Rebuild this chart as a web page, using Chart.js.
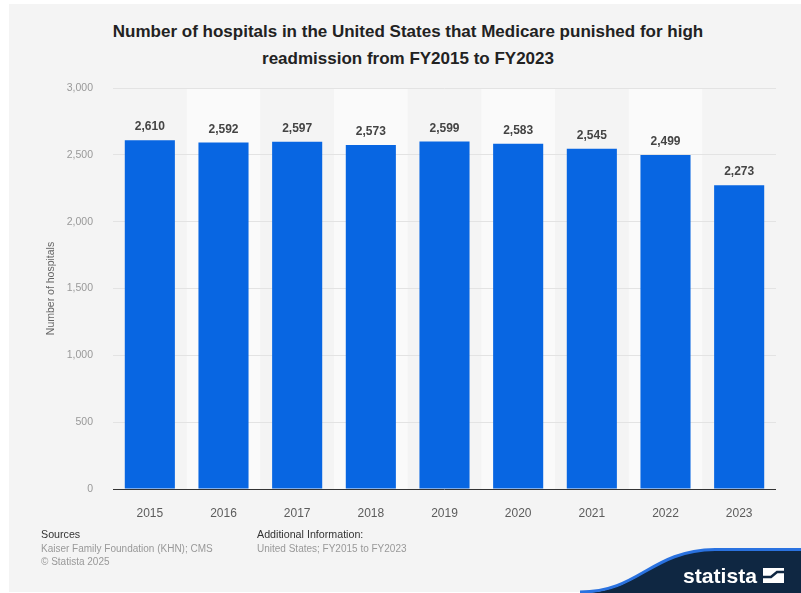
<!DOCTYPE html>
<html>
<head>
<meta charset="utf-8">
<script src="https://cdn.jsdelivr.net/npm/chart.js@4/dist/chart.umd.min.js"></script>
<style>
  body { margin: 0; background: #ffffff; font-family: "Liberation Sans", Arial, sans-serif; }
  #card { position: absolute; left: 9px; top: 4px; width: 792px; height: 588px; background: #f4f4f4; }
  #chart { position: absolute; left: 0; top: 0; }
  #title { position: absolute; left: 0; top: 18px; width: 816px; text-align: center;
    font-weight: bold; font-size: 17px; line-height: 27px; color: #222; }
  .foot { position: absolute; top: 528px; font-size: 10px; line-height: 13.5px; color: #999; }
  .foot b { font-weight: normal; color: #333; font-size: 10.7px; }
  #logo { position: absolute; left: 0; top: 0; }
</style>
</head>
<body>
<div id="card"></div>
<div id="title">Number of hospitals in the United States that Medicare punished for high<br>readmission from FY2015 to FY2023</div>
<canvas id="chart" width="801" height="593"></canvas>
<div class="foot" style="left:41px"><b>Sources</b><br>Kaiser Family Foundation (KHN); CMS<br>© Statista 2025</div>
<div class="foot" style="left:257px"><b>Additional Information:</b><br>United States; FY2015 to FY2023</div>
<svg id="logo" width="801" height="593">
  <path d="M580 593 C640 593 650 551 715 550 L801 550 L801 593 Z" fill="#0f2742"/>
  <path d="M580 592 C640 592 650 550.5 715 549.5 L801 549.5" fill="none" stroke="#2a72e0" stroke-width="3"/>
  <text x="683" y="583" fill="#ffffff" font-family="Liberation Sans, Arial" font-weight="bold" font-size="21" textLength="74" lengthAdjust="spacingAndGlyphs">statista</text>
  <rect x="763" y="568" width="21" height="15" fill="#ffffff"/>
  <path d="M763 577 L771 577 L777 572 L784 572" fill="none" stroke="#0f2742" stroke-width="2.5"/>
</svg>
<script>
// Data
const years = ["2015", "2016", "2017", "2018", "2019", "2020", "2021", "2022", "2023"];
const hospitals = [2610, 2592, 2597, 2573, 2599, 2583, 2545, 2499, 2273];
const yTicks = [0, 500, 1000, 1500, 2000, 2500, 3000];

const chartCanvas = document.getElementById("chart");
const chartContext = chartCanvas.getContext("2d");

// Alternating column bands behind the bars
const bandPlugin = {
  id: "bands",
  beforeDraw(chart) {
    const { ctx, chartArea, scales } = chart;
    const step = scales.x.width / years.length;
    ctx.save();
    ctx.fillStyle = "#fafafa";
    years.forEach((y, i) => {
      if (i % 2 === 1) {
        const x0 = scales.x.getPixelForValue(i) - step / 2;
        ctx.fillRect(x0, chartArea.top, step, chartArea.bottom - chartArea.top);
      }
    });
    ctx.restore();
  },
};

// Value labels above bars
const labelPlugin = {
  id: "valueLabels",
  afterDatasetsDraw(chart) {
    const { ctx } = chart;
    const meta = chart.getDatasetMeta(0);
    ctx.save();
    ctx.font = "bold 12px 'Liberation Sans', Arial, sans-serif";
    ctx.fillStyle = "#444";
    ctx.textAlign = "center";
    ctx.textBaseline = "middle";
    meta.data.forEach((bar, i) => {
      ctx.fillText(hospitals[i].toLocaleString("en-US"), bar.x, bar.y - 13);
    });
    ctx.restore();
  },
};

new Chart(chartContext, {
  type: "bar",
  data: {
    labels: years,
    datasets: [
      {
        data: hospitals,
        backgroundColor: "#0866e2",
        categoryPercentage: 1,
        barPercentage: 0.68,
      },
    ],
  },
  options: {
    responsive: false,
    animation: false,
    layout: { padding: { left: 0, right: 25, top: 88, bottom: 74 } },
    plugins: { legend: { display: false }, tooltip: { enabled: false } },
    scales: {
      x: {
        grid: { display: false },
        border: { display: false },
        ticks: { color: "#5c5c5c", padding: 9, font: { size: 12, family: "'Liberation Sans', Arial" } },
        afterFit(scale) { scale.height = 30; },
      },
      y: {
        min: 0,
        max: 3000,
        afterBuildTicks(scale) { scale.ticks = yTicks.map(v => ({ value: v })); },
        grid: {
          drawTicks: false,
          color: ctx => (ctx.tick && ctx.tick.value === 0 ? "#333" : "#e3e3e3"),
        },
        border: { display: false },
        ticks: {
          color: "#999",
          padding: 20,
          font: { size: 10.5, family: "'Liberation Sans', Arial" },
          callback: v => v.toLocaleString("en-US"),
        },
        title: {
          display: true,
          text: "Number of hospitals",
          color: "#666",
          font: { size: 10.5, family: "'Liberation Sans', Arial" },
          padding: { top: 45, bottom: 0 },
        },
        afterFit(scale) { scale.width = 113; },
      },
    },
  },
  plugins: [bandPlugin, labelPlugin],
});
</script>
</body>
</html>
